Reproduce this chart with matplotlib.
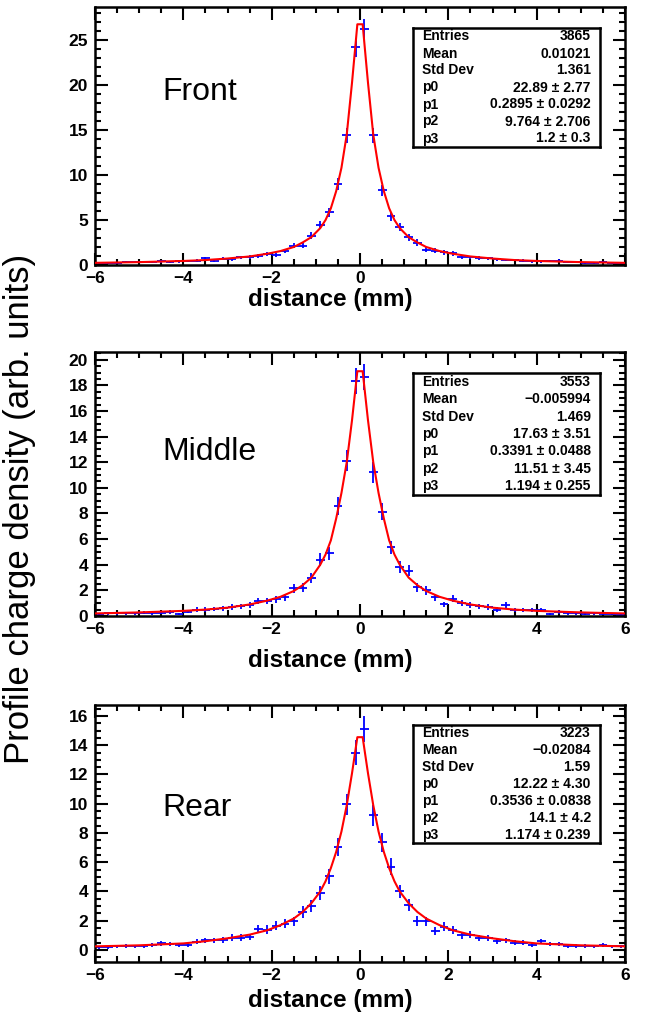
import numpy as np
import matplotlib.pyplot as plt
from matplotlib.ticker import MultipleLocator, FuncFormatter

plt.rcParams["font.family"] = ["Liberation Sans", "DejaVu Sans"]

# bin centres (0.2 mm bins from -6 to 6)
bin_x = np.linspace(-5.9, 5.9, 60)

front_y = [0.2, 0.25, 0.2, 0.3, 0.3, 0.35, 0.3, 0.4, 0.35, 0.4,
           0.45, 0.5, 0.75, 0.5, 0.7, 0.65, 0.85, 0.9, 1.0, 1.25,
           1.15, 1.55, 2.15, 2.15, 3.25, 4.4, 5.85, 9.0, 14.4, 24.2,
           26.2, 14.4, 8.3, 5.4, 4.2, 3.1, 2.5, 1.7, 1.6, 1.4,
           1.3, 0.85, 0.85, 0.8, 0.75, 0.65, 0.55, 0.55, 0.5, 0.4,
           0.4, 0.45, 0.5, 0.3, 0.3, 0.25, 0.2, 0.3, 0.25, 0.2]
front_err = [0.1, 0.1, 0.1, 0.12, 0.12, 0.12, 0.12, 0.13, 0.12, 0.13,
             0.14, 0.15, 0.18, 0.15, 0.18, 0.17, 0.2, 0.2, 0.21, 0.24,
             0.23, 0.27, 0.31, 0.31, 0.39, 0.45, 0.52, 0.64, 0.82, 1.06,
             1.1, 0.82, 0.62, 0.5, 0.44, 0.38, 0.34, 0.28, 0.27, 0.25,
             0.25, 0.2, 0.2, 0.19, 0.19, 0.17, 0.16, 0.16, 0.15, 0.14,
             0.14, 0.14, 0.15, 0.12, 0.12, 0.11, 0.1, 0.12, 0.11, 0.1]

middle_y = [0.15, 0.2, 0.2, 0.2, 0.2, 0.25, 0.2, 0.25, 0.3, 0.15,
            0.35, 0.5, 0.5, 0.55, 0.6, 0.7, 0.75, 0.85, 1.15, 1.15,
            1.3, 1.45, 2.15, 2.2, 2.95, 4.4, 4.9, 8.6, 12.1, 18.35,
            18.65, 11.2, 8.15, 5.35, 3.8, 3.55, 2.25, 2.0, 1.45, 0.9,
            1.35, 1.0, 0.85, 0.75, 0.7, 0.5, 0.85, 0.45, 0.45, 0.45,
            0.45, 0.15, 0.3, 0.2, 0.2, 0.15, 0.2, 0.15, 0.15, 0.1]
middle_err = [0.09, 0.1, 0.1, 0.1, 0.1, 0.12, 0.1, 0.12, 0.13, 0.09,
              0.14, 0.17, 0.17, 0.17, 0.18, 0.2, 0.2, 0.22, 0.25, 0.25,
              0.27, 0.28, 0.34, 0.35, 0.4, 0.49, 0.52, 0.69, 0.82, 1.01,
              1.04, 0.79, 0.67, 0.54, 0.46, 0.44, 0.35, 0.33, 0.28, 0.22,
              0.27, 0.23, 0.22, 0.2, 0.2, 0.17, 0.22, 0.16, 0.16, 0.16,
              0.16, 0.09, 0.13, 0.1, 0.1, 0.09, 0.1, 0.09, 0.09, 0.07]

rear_y = [0.2, 0.2, 0.25, 0.3, 0.25, 0.25, 0.35, 0.45, 0.4, 0.35,
          0.35, 0.55, 0.65, 0.65, 0.7, 0.85, 0.85, 0.9, 1.45, 1.4,
          1.65, 1.8, 1.95, 2.6, 3.0, 3.9, 5.05, 7.05, 9.95, 13.5,
          15.1, 9.2, 7.35, 5.7, 4.0, 3.1, 2.0, 1.95, 1.3, 1.6,
          1.35, 1.0, 1.05, 0.8, 0.85, 0.6, 0.65, 0.5, 0.5, 0.35,
          0.6, 0.4, 0.4, 0.3, 0.3, 0.3, 0.25, 0.35, 0.25, 0.25]
rear_err = [0.1, 0.1, 0.11, 0.13, 0.11, 0.11, 0.14, 0.15, 0.15, 0.14,
            0.14, 0.17, 0.19, 0.19, 0.2, 0.22, 0.22, 0.22, 0.28, 0.28,
            0.3, 0.31, 0.33, 0.38, 0.4, 0.46, 0.52, 0.62, 0.74, 0.86,
            0.9, 0.7, 0.63, 0.56, 0.46, 0.41, 0.33, 0.32, 0.27, 0.29,
            0.27, 0.23, 0.24, 0.21, 0.21, 0.18, 0.19, 0.16, 0.16, 0.14,
            0.18, 0.15, 0.15, 0.13, 0.13, 0.13, 0.11, 0.14, 0.11, 0.11]

# fit curves as drawn (sampled along x)
fit_x = [-6.0, -5.0, -4.0, -3.5, -3.0, -2.5, -2.1, -1.8, -1.5, -1.3, -1.1,
         -0.9, -0.78, -0.66, -0.54, -0.42, -0.3, -0.18, -0.06,
         0.06, 0.18, 0.3, 0.42, 0.54, 0.66, 0.78, 0.9,
         1.1, 1.3, 1.5, 1.8, 2.1, 2.5, 3.0, 3.5, 4.0, 5.0, 6.0]
front_fit = [0.24, 0.32, 0.45, 0.55, 0.72, 0.95, 1.25, 1.55, 2.0, 2.5, 3.1,
             4.1, 5.0, 6.3, 8.2, 10.8, 14.5, 20.3, 26.75,
             26.75, 20.3, 14.5, 10.8, 8.2, 6.3, 5.0, 4.1,
             3.1, 2.5, 2.0, 1.55, 1.25, 0.95, 0.72, 0.55, 0.45, 0.32, 0.24]
middle_fit = [0.2, 0.28, 0.4, 0.5, 0.65, 0.9, 1.2, 1.5, 1.95, 2.4, 3.0,
              4.0, 4.8, 5.9, 7.6, 9.6, 12.0, 15.3, 19.1,
              19.1, 15.3, 12.0, 9.6, 7.6, 5.9, 4.8, 4.0,
              3.0, 2.4, 1.95, 1.5, 1.2, 0.9, 0.65, 0.5, 0.4, 0.28, 0.2]
rear_fit = [0.25, 0.32, 0.45, 0.6, 0.8, 1.05, 1.35, 1.7, 2.15, 2.6, 3.2,
            4.0, 4.7, 5.6, 6.7, 8.1, 9.9, 12.1, 14.55,
            14.55, 12.1, 9.9, 8.1, 6.7, 5.6, 4.7, 4.0,
            3.2, 2.6, 2.15, 1.7, 1.35, 1.05, 0.8, 0.6, 0.45, 0.32, 0.25]

front_stats = [("Entries", "3865"), ("Mean", "0.01021"), ("Std Dev", "1.361"),
               ("p0", "22.89 \u00b1 2.77"), ("p1", "0.2895 \u00b1 0.0292"),
               ("p2", "9.764 \u00b1 2.706"), ("p3", "1.2 \u00b1 0.3")]
middle_stats = [("Entries", "3553"), ("Mean", "\u22120.005994"), ("Std Dev", "1.469"),
                ("p0", "17.63 \u00b1 3.51"), ("p1", "0.3391 \u00b1 0.0488"),
                ("p2", "11.51 \u00b1 3.45"), ("p3", "1.194 \u00b1 0.255")]
rear_stats = [("Entries", "3223"), ("Mean", "\u22120.02084"), ("Std Dev", "1.59"),
              ("p0", "12.22 \u00b1 4.30"), ("p1", "0.3536 \u00b1 0.0838"),
              ("p2", "14.1 \u00b1 4.2"), ("p3", "1.174 \u00b1 0.239")]

W, H = 646, 1017


def frac(left, top, right, bottom):
    return [left / W, 1 - bottom / H, (right - left) / W, (bottom - top) / H]


def draw_panel(fig, box, ylim, ymaj, ymin, y, err, fit, label, label_y,
               stats, stats_box, xlab_y, hide_pos_labels=False):
    ax = fig.add_axes(frac(*box))
    ax.errorbar(bin_x, y, xerr=0.1, yerr=err, fmt="none", ecolor="blue",
                elinewidth=1.3, capsize=0, zorder=2)
    ax.plot(fit_x, fit, color="red", lw=1.5, zorder=3)
    ax.set_xlim(-6, 6)
    ax.set_ylim(*ylim)
    ax.xaxis.set_major_locator(MultipleLocator(2))
    ax.xaxis.set_minor_locator(MultipleLocator(0.5))
    ax.yaxis.set_major_locator(MultipleLocator(ymaj))
    ax.yaxis.set_minor_locator(MultipleLocator(ymin))
    ax.tick_params(which="both", direction="in", top=True, right=True,
                   width=1.5, labelsize=12.5)
    ax.tick_params(axis="x", pad=4)
    ax.tick_params(axis="y", pad=5)
    ax.tick_params(which="major", length=9)
    ax.tick_params(which="minor", length=4.5)
    for lab in ax.get_xticklabels() + ax.get_yticklabels():
        lab.set_fontweight("bold")
    if hide_pos_labels:
        ax.xaxis.set_major_formatter(
            FuncFormatter(lambda v, p: "" if v > 0.5 else f"{v:.0f}".replace("-", "\u2212")))
    for s in ax.spines.values():
        s.set_linewidth(1.8)
    ax.text(0.128, label_y, label, transform=ax.transAxes, fontsize=23,
            ha="left", va="center")
    fig.text(330 / W, 1 - xlab_y / H, "distance (mm)", fontsize=17.5,
             fontweight="bold", ha="center", va="center")

    sb = fig.add_axes(frac(*stats_box))
    sb.set_xticks([])
    sb.set_yticks([])
    for s in sb.spines.values():
        s.set_linewidth(1.8)
    n = len(stats)
    for i, (k, v) in enumerate(stats):
        yy = 1 - (i + 0.5) / n
        sb.text(0.05, yy, k, fontsize=10, fontweight="bold", va="center", ha="left")
        sb.text(0.95, yy, v, fontsize=10, fontweight="bold", va="center", ha="right")
    return ax


def main() -> None:
    fig = plt.figure(figsize=(W / 100, H / 100), dpi=100)

    draw_panel(fig, (95, 7, 625, 265), (0, 28.67), 5, 1, front_y, front_err,
               front_fit, "Front", 0.67, front_stats, (413, 28, 600, 147), 300,
               hide_pos_labels=True)
    draw_panel(fig, (95, 352, 625, 616), (0, 20.6), 2, 0.5, middle_y, middle_err,
               middle_fit, "Middle", 0.62, middle_stats, (413, 373, 600, 495), 661)
    draw_panel(fig, (95, 705, 625, 962), (-0.82, 16.75), 2, 0.5, rear_y, rear_err,
               rear_fit, "Rear", 0.6, rear_stats, (413, 725, 600, 843), 1001)

    fig.text(20 / W, 1 - 509 / H, "Profile charge density (arb. units)",
             fontsize=25, rotation=90, ha="center", va="center")

    fig.savefig("out.png", dpi=100)


if __name__ == "__main__":
    main()
